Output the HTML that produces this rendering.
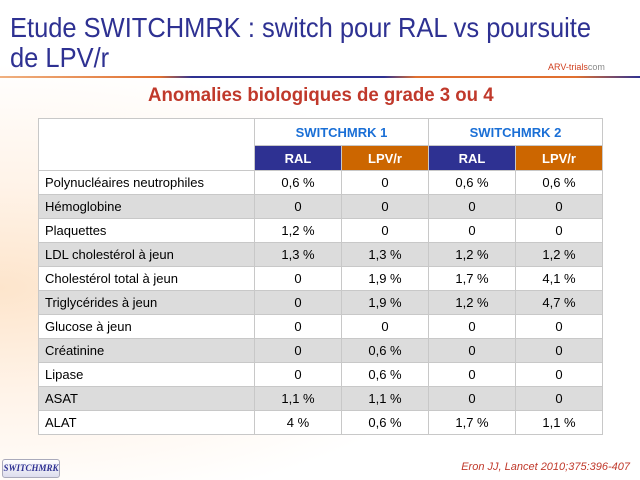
<!DOCTYPE html>
<html><head><meta charset="utf-8"><style>
body{margin:0;width:640px;height:480px;overflow:hidden;background:#fff;font-family:"Liberation Sans",sans-serif;position:relative}
.bg{position:absolute;left:0;top:0;width:640px;height:480px;background:radial-gradient(ellipse at 0% 60%,#fde5cc 0%,#fff3e8 25%,#fff 55%)}
.t{position:absolute;left:10px;color:#2e3192;font-size:28px;font-family:"Liberation Sans",sans-serif;white-space:nowrap;transform:scaleX(0.91);transform-origin:left top}
.sub{position:absolute;left:148px;top:85px;color:#c0392b;font-weight:bold;font-size:19px;font-family:"Liberation Sans",sans-serif;white-space:nowrap;transform:scaleX(0.98);transform-origin:left top}
table{position:absolute;left:38px;top:118px;border-collapse:collapse;font-size:13px;color:#000}
td{border:1px solid #c8c8c8;height:23px;padding:0;text-align:center}
td.l{text-align:left;padding-left:6px;width:209px}
td.c{width:86px}
tr.g td{background:#dcdcdc}
tr.w td{background:#fff}
.h1 td{color:#1a6fd6;font-weight:bold;font-size:13px;height:26px;background:#fff}
.h2 td{color:#fff;font-weight:bold;height:24px}
.b{background:#2e3192}.o{background:#cc6600}
</style></head><body><div class="bg"></div>
<div class="t" style="top:12px">Etude SWITCHMRK : switch pour RAL vs poursuite</div>
<div class="t" style="top:42px">de LPV/r</div>
<div style="position:absolute;left:0;top:76px;width:640px;height:2px;background:linear-gradient(90deg,#f0b080 0%,#e07030 25%,#2e3192 30%,#2e3192 60%,#e07030 65%,#e07030 90%,#2e3192 100%)"></div>
<div style="position:absolute;left:548px;top:62px;font-size:9px;color:#d04020">ARV-trials<span style="color:#888">com</span></div>
<div class="sub">Anomalies biologiques de grade 3 ou 4</div>
<table>
<tr class="h1"><td class="l" rowspan="2" style="background:#fff"></td><td colspan="2">SWITCHMRK 1</td><td colspan="2">SWITCHMRK 2</td></tr>
<tr class="h2"><td class="c b">RAL</td><td class="c o">LPV/r</td><td class="c b">RAL</td><td class="c o">LPV/r</td></tr>
<tr class="w"><td class="l">Polynucléaires neutrophiles</td><td>0,6 %</td><td>0</td><td>0,6 %</td><td>0,6 %</td></tr>
<tr class="g"><td class="l">Hémoglobine</td><td>0</td><td>0</td><td>0</td><td>0</td></tr>
<tr class="w"><td class="l">Plaquettes</td><td>1,2 %</td><td>0</td><td>0</td><td>0</td></tr>
<tr class="g"><td class="l">LDL cholestérol à jeun</td><td>1,3 %</td><td>1,3 %</td><td>1,2 %</td><td>1,2 %</td></tr>
<tr class="w"><td class="l">Cholestérol total à jeun</td><td>0</td><td>1,9 %</td><td>1,7 %</td><td>4,1 %</td></tr>
<tr class="g"><td class="l">Triglycérides à jeun</td><td>0</td><td>1,9 %</td><td>1,2 %</td><td>4,7 %</td></tr>
<tr class="w"><td class="l">Glucose à jeun</td><td>0</td><td>0</td><td>0</td><td>0</td></tr>
<tr class="g"><td class="l">Créatinine</td><td>0</td><td>0,6 %</td><td>0</td><td>0</td></tr>
<tr class="w"><td class="l">Lipase</td><td>0</td><td>0,6 %</td><td>0</td><td>0</td></tr>
<tr class="g"><td class="l">ASAT</td><td>1,1 %</td><td>1,1 %</td><td>0</td><td>0</td></tr>
<tr class="w"><td class="l">ALAT</td><td>4 %</td><td>0,6 %</td><td>1,7 %</td><td>1,1 %</td></tr>
</table>
<div style="position:absolute;left:2px;top:459px;width:56px;height:17px;border:1px solid #aab;border-radius:3px;background:linear-gradient(#fff,#dde);font:italic bold 9px 'Liberation Serif',serif;color:#2e3192;line-height:17px;text-align:center">SWITCHMRK</div>
<div style="position:absolute;right:10px;top:461px;font:italic 11px 'Liberation Sans',sans-serif;color:#c0392b">Eron JJ, Lancet 2010;375:396-407</div>
</body></html>
